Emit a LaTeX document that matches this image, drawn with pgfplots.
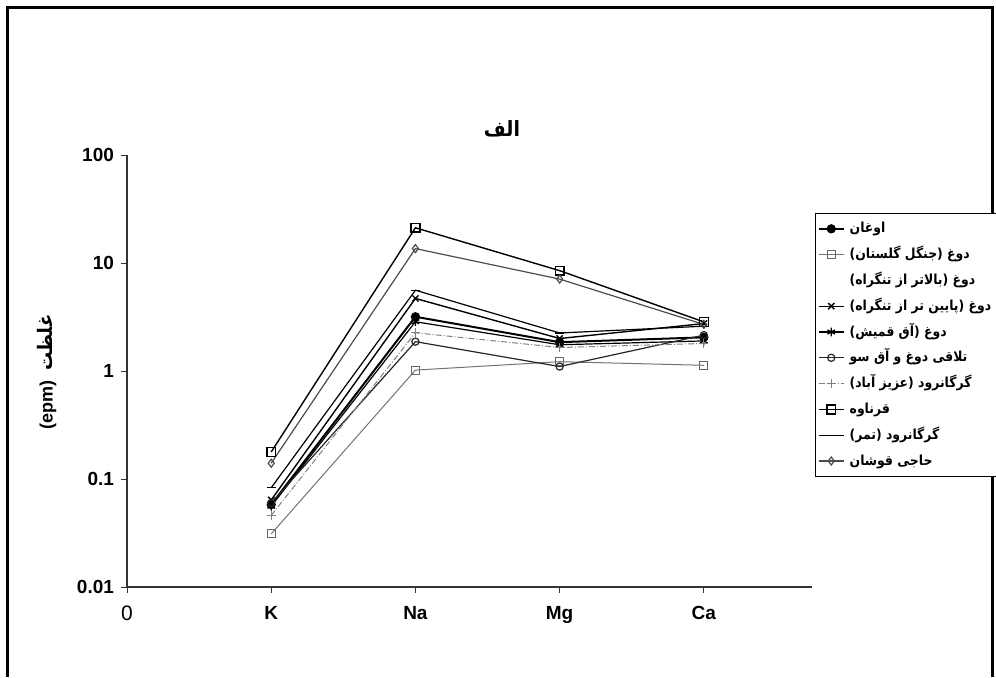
\documentclass[border=0pt]{standalone}
\usepackage{fontspec}
\setmainfont{Liberation Sans}
\newfontfamily\arabicfont[Script=Arabic]{DejaVu Sans Condensed}
\TeXXeTstate=1
\usepackage{pgfplots}
\pgfplotsset{compat=1.18}
\newcommand{\ar}[1]{{\arabicfont\beginR #1\endR}}
% parentheses in the RTL font come out mirrored, so they are written swapped
\newcommand{\pr}[1]{)\ar{#1}(}

\begin{document}
\begin{tikzpicture}[x=1pt,y=1pt]
\useasboundingbox (-63.5,-45) rectangle (434.5,293.5);
\draw[line width=1.5pt] (-59.5,-45) -- (-59.5,290) -- (432.5,290) -- (432.5,-45);
\begin{axis}[
    at={(0,0)}, anchor=south west,
    scale only axis,
    width=342.5pt, height=216pt,
    xmin=0, xmax=4.75,
    ymode=log, ymin=0.01, ymax=100,
    axis x line*=bottom, axis y line*=left,
    axis line style={line width=0.6pt, black!80},
    tick align=outside,
    major tick length=3pt,
    tick style={black!80, line width=0.5pt},
    xtick={0,1,2,3,4},
    xticklabels={{\fontsize{10.5}{12}\selectfont\mdseries 0},K,Na,Mg,Ca},
    ytick={0.01,0.1,1,10,100},
    yticklabels={0.01,0.1,1,10,100},
    yminorticks=false,
    tick label style={font=\fontsize{9.5}{11}\selectfont\bfseries},
    xticklabel style={yshift=-3pt},
    clip=false,
    legend cell align=left,
    legend style={at={(1.004,0.866)}, anchor=north west,
        draw=black, line width=0.6pt, fill=white,
        font=\arabicfont\bfseries\fontsize{6.9}{8}\selectfont,
        row sep=0pt, inner sep=1.2pt,
        nodes={inner sep=2.45pt, text height=6pt, text depth=2pt}},
    legend image code/.code={\draw[mark repeat=2,mark phase=2]
        plot coordinates {(0cm,0cm)(0.22cm,0cm)(0.44cm,0cm)};},
]
% اوغان
\addplot[black, line width=1pt, mark=*, mark size=1.8pt] coordinates {(1,0.058)(2,3.18)(3,1.85)(4,2.05)};
\addlegendentry{\ar{اوغان}}
% دوغ (جنگل گلستان)
\addplot[black!55, line width=0.5pt, mark=square, mark size=2pt, mark options={solid, black!60}] coordinates {(1,0.031)(2,1.02)(3,1.22)(4,1.13)};
\addlegendentry{\pr{جنگل گلستان} \ar{دوغ}}
% دوغ (بالاتر از تنگراه) -- not visible in the figure
\addlegendimage{white}
\addlegendentry{\pr{بالاتر از تنگراه} \ar{دوغ}}
% دوغ (پایین تر از تنگراه)
\addplot[black, line width=0.7pt, mark=x, mark size=2.2pt] coordinates {(1,0.064)(2,4.7)(3,2.0)(4,2.75)};
\addlegendentry{\pr{پایین تر از تنگراه} \ar{دوغ}}
% دوغ (آق قمیش)
\addplot[black, line width=0.6pt, mark=asterisk, mark size=2.2pt] coordinates {(1,0.056)(2,2.86)(3,1.75)(4,1.9)};
\addlegendentry{\pr{آق قمیش} \ar{دوغ}}
% تلاقی دوغ و آق سو
\addplot[black!85, line width=0.6pt, mark=o, mark size=1.8pt] coordinates {(1,0.06)(2,1.87)(3,1.1)(4,2.15)};
\addlegendentry{\ar{تلاقی دوغ و آق سو}}
% گرگانرود (عزیز آباد)
\addplot[black!50, line width=0.5pt, densely dashdotted, mark=+, mark size=2.2pt, mark options={solid}] coordinates {(1,0.046)(2,2.26)(3,1.65)(4,1.8)};
\addlegendentry{\pr{عزیز آباد} \ar{گرگانرود}}
% قرناوه
\addplot[black, line width=0.7pt, mark=square, mark size=2.2pt] coordinates {(1,0.178)(2,21.2)(3,8.5)(4,2.85)};
\addlegendentry{\ar{قرناوه}}
% گرگانرود (تمر)
\addplot[black, line width=0.6pt, mark=-, mark size=2.2pt] coordinates {(1,0.083)(2,5.6)(3,2.25)(4,2.6)};
\addlegendentry{\pr{تمر} \ar{گرگانرود}}
% حاجی قوشان
\addplot[black!70, line width=0.6pt, mark=diamond, mark size=2pt, mark options={solid}] coordinates {(1,0.14)(2,13.6)(3,7.1)(4,2.7)};
\addlegendentry{\ar{حاجی قوشان}}
\end{axis}
\node[font=\arabicfont\bfseries\fontsize{10.5}{12}\selectfont] at (187.5,229) {\ar{الف}};
\node[rotate=90, font=\bfseries\fontsize{9}{11}\selectfont] at (-40,107.5) {(epm)\ \ {\fontsize{10}{12}\selectfont\ar{غلظت}}};
\end{tikzpicture}
\end{document}
